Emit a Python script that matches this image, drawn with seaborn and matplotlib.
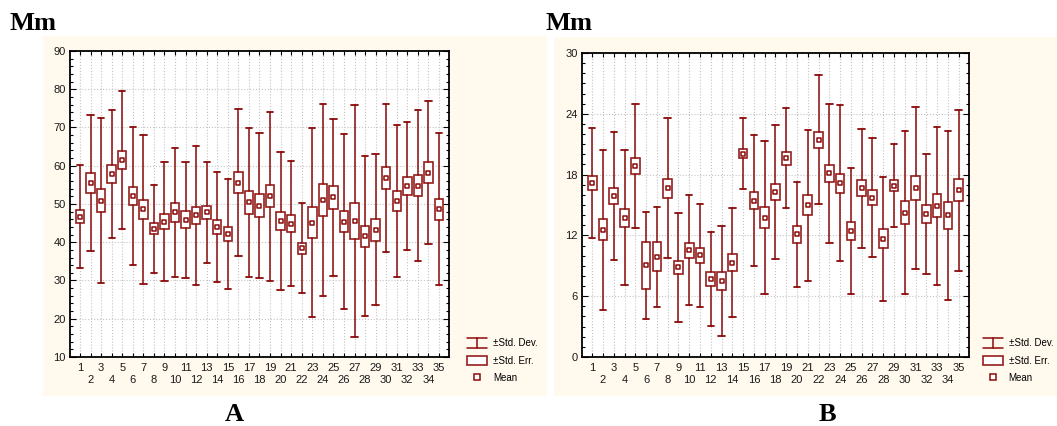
import numpy as np
import pandas as pd
import matplotlib.pyplot as plt
import seaborn as sns
from matplotlib.patches import Rectangle
from matplotlib.lines import Line2D
from matplotlib.legend_handler import HandlerBase
from matplotlib.ticker import MultipleLocator

# ------------------------------------------------------------------
# данные: среднее, стандартная ошибка, стандартное отклонение
# ------------------------------------------------------------------
groups = list(range(1, 36))

mean_a = [46.7, 55.5, 50.9, 57.8, 61.5, 52.1, 48.6, 43.5, 45.4, 47.8,
          45.9, 47.0, 47.8, 44.0, 42.2, 55.6, 50.4, 49.6, 52.0, 45.6,
          44.8, 38.4, 45.1, 51.0, 51.7, 45.4, 45.5, 41.6, 43.3, 56.8,
          50.8, 54.7, 54.8, 58.2, 48.6]
se_a = [1.65, 2.5, 3.05, 2.4, 2.4, 2.45, 2.55, 1.4, 1.95, 2.45,
        2.25, 2.3, 1.75, 1.8, 1.85, 2.65, 3.0, 2.9, 2.9, 2.4,
        2.2, 1.5, 4.05, 4.15, 3.1, 2.85, 4.7, 2.75, 2.9, 2.85,
        2.55, 2.45, 2.8, 2.65, 2.7]
sd_a = [13.45, 17.75, 21.5, 16.75, 17.95, 18.1, 19.55, 11.55, 15.6, 16.8,
        15.2, 18.05, 13.3, 14.45, 14.3, 19.15, 19.5, 18.9, 22.05, 18.1,
        16.35, 11.8, 24.7, 25.05, 20.5, 22.8, 30.25, 20.9, 19.75, 19.25,
        19.95, 16.65, 19.8, 18.6, 19.9]

mean_b = [17.15, 12.55, 15.87, 13.76, 18.84, 9.03, 9.9, 16.65, 8.84, 10.53,
          10.02, 7.72, 7.52, 9.3, 20.04, 15.4, 13.74, 16.27, 19.61, 12.1,
          14.96, 21.43, 18.12, 17.15, 12.41, 16.64, 15.71, 11.66, 16.91, 14.25,
          16.67, 14.13, 14.91, 13.98, 16.45]
se_b = [0.69, 1.04, 0.82, 0.89, 0.77, 2.33, 1.45, 0.93, 0.67, 0.72,
        0.77, 0.67, 0.9, 0.82, 0.45, 0.84, 1.02, 0.82, 0.65, 0.82,
        0.98, 0.8, 0.87, 0.95, 0.9, 0.8, 0.74, 0.93, 0.54, 1.16,
        1.17, 0.88, 1.13, 1.35, 1.1]
sd_b = [5.42, 7.91, 6.29, 6.67, 6.12, 5.3, 4.94, 6.9, 5.35, 5.41,
        5.05, 4.65, 5.4, 5.38, 3.5, 6.47, 7.55, 6.6, 4.92, 5.21,
        7.42, 6.35, 6.83, 7.67, 6.2, 5.9, 5.87, 6.12, 4.06, 8.07,
        8.01, 5.9, 7.8, 8.34, 7.94]

panel_titles = ["A", "B"]
legend_labels = ["±Std. Dev.", "±Std. Err.", "Mean"]

RED = "#8B0A0A"
BOX_RED = "#951E1E"
CREAM = "#FFF9EE"

sns.set_theme(style="ticks")
plt.rcParams["font.family"] = ["Liberation Sans", "DejaVu Sans"]
plt.rcParams.update({
    "text.color": "black",
    "axes.edgecolor": "black",
    "axes.linewidth": 1.3,
    "xtick.direction": "in",
    "ytick.direction": "in",
    "xtick.labelsize": 8,
    "ytick.labelsize": 8,
    "xtick.color": "black",
    "ytick.color": "black",
    "xtick.labelcolor": "#1a1a1a",
    "ytick.labelcolor": "#1a1a1a",
})


class HandlerSD(HandlerBase):
    """Значок ±Std. Dev.: вертикальный ус с двумя засечками."""
    def create_artists(self, legend, orig, xd, yd, w, h, fs, trans):
        x0, x1 = -xd, w - xd
        xm = (x0 + x1) / 2
        y0, y1 = -yd - 0.15 * h, h - yd + 0.15 * h
        kw = dict(color=RED, lw=1.1, transform=trans)
        return [Line2D([x0, x1], [y1, y1], **kw),
                Line2D([x0, x1], [y0, y0], **kw),
                Line2D([xm, xm], [y0, y1], **kw)]


class HandlerBox(HandlerBase):
    def create_artists(self, legend, orig, xd, yd, w, h, fs, trans):
        r = Rectangle((-xd, -yd - 0.1 * h), w, 1.2 * h, facecolor="white",
                      edgecolor=BOX_RED, lw=1.2, transform=trans)
        return [r]


def draw_panel(ax, means, ses, sds, ylim, ystep, yminor):
    stats = []
    for m, se, sd in zip(means, ses, sds):
        stats.append({"med": m, "q1": m - se, "q3": m + se,
                      "whislo": m - sd, "whishi": m + sd, "fliers": []})
    ax.bxp(stats, positions=groups, widths=0.8, capwidths=0.6,
           showfliers=False, patch_artist=True,
           boxprops=dict(facecolor="white", edgecolor=BOX_RED, lw=1.2),
           whiskerprops=dict(color=RED, lw=1.1),
           capprops=dict(color=RED, lw=1.3),
           medianprops=dict(lw=0), zorder=3)

    df = pd.DataFrame({"group": groups, "mean": means})
    sns.scatterplot(data=df, x="group", y="mean", ax=ax, marker="s", s=11,
                    facecolor="white", edgecolor=RED, linewidth=1.1,
                    zorder=4, legend=False)

    ax.set_facecolor("white")
    ax.set_xlim(0.05, 35.95)
    ax.set_ylim(*ylim)
    ax.yaxis.set_major_locator(MultipleLocator(ystep))
    ax.yaxis.set_minor_locator(MultipleLocator(yminor))
    ax.set_xticks(groups)
    ax.set_xticklabels([str(g) if g % 2 else "\n" + str(g) for g in groups])
    ax.tick_params(axis="x", which="both", top=True, length=3, width=0.8,
                   pad=4)
    ax.tick_params(axis="y", which="both", right=True, width=0.8, pad=3)
    ax.tick_params(axis="y", which="major", length=4)
    ax.tick_params(axis="y", which="minor", length=2.5)
    for lab in ax.get_xticklabels():
        lab.set_linespacing(1.35)
    ax.grid(True, axis="both", which="major", color="#c4c4c4",
            linestyle=":", linewidth=0.8)
    ax.set_axisbelow(True)
    ax.set_xlabel("")
    ax.set_ylabel("")


fig = plt.figure(figsize=(10.57, 4.26), dpi=100)
fig.patch.set_facecolor("white")

# кремовые подложки панелей
fig.patches.append(Rectangle((0.0407, 0.0704), 0.4768, 0.845,
                             transform=fig.transFigure, facecolor=CREAM,
                             edgecolor="none", zorder=-5))
fig.patches.append(Rectangle((0.5241, 0.0704), 0.4759, 0.8427,
                             transform=fig.transFigure, facecolor=CREAM,
                             edgecolor="none", zorder=-5))

ax_a = fig.add_axes([0.0662, 0.162, 0.3586, 0.7183])
ax_b = fig.add_axes([0.5506, 0.162, 0.3661, 0.7136])
for ax in (ax_a, ax_b):
    ax.set_zorder(2)

draw_panel(ax_a, mean_a, se_a, sd_a, (10, 90), 10, 2)
draw_panel(ax_b, mean_b, se_b, sd_b, (0, 30), 6, 1)

handles = [Line2D([], [], color=RED), Rectangle((0, 0), 1, 1),
           Line2D([], [], marker="s", ls="none", ms=4.2, mfc="white",
                  mec=RED, mew=1.1)]
hmap = {handles[0]: HandlerSD(), handles[1]: HandlerBox()}
for ax, x_leg in [(ax_a, 0.434), (ax_b, 0.922)]:
    ax.legend(handles, legend_labels, handler_map=hmap, loc="upper left",
              bbox_to_anchor=(x_leg, 0.226), bbox_transform=fig.transFigure,
              frameon=False, fontsize=7, handlelength=2.0, handleheight=0.85,
              handletextpad=0.6, labelspacing=0.75)

serif = ["Liberation Serif", "DejaVu Serif"]
fig.text(10 / 1057, 1 - 30 / 426, "Mm", family=serif, fontweight="bold",
         fontsize=19, ha="left", va="baseline", color="black")
fig.text(545 / 1057, 1 - 30 / 426, "Mm", family=serif, fontweight="bold",
         fontsize=19, ha="left", va="baseline", color="black")
fig.text(234 / 1057, 1 - 421 / 426, panel_titles[0], family=serif,
         fontweight="bold", fontsize=19, ha="center", va="baseline",
         color="black")
fig.text(827 / 1057, 1 - 421 / 426, panel_titles[1], family=serif,
         fontweight="bold", fontsize=19, ha="center", va="baseline",
         color="black")

fig.savefig("out.png", dpi=100, facecolor="white")
